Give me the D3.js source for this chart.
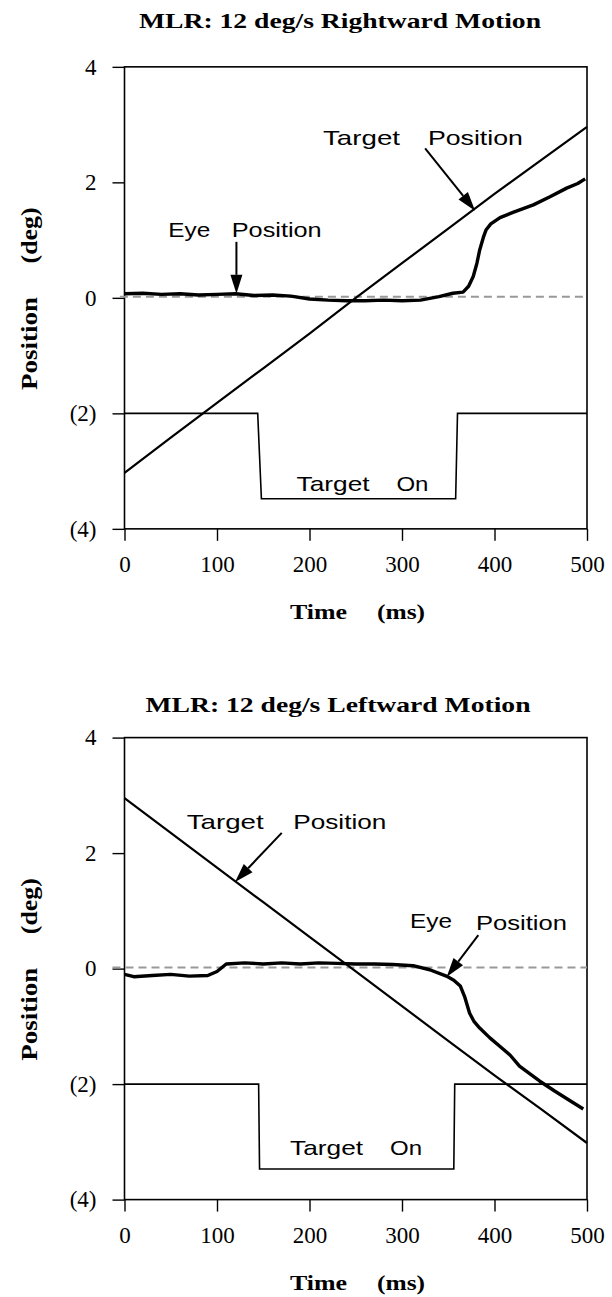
<!DOCTYPE html>
<html>
<head>
<meta charset="utf-8">
<script src="https://cdn.jsdelivr.net/npm/d3@7"></script>
<style>
  body { margin: 0; background: #fff; }
  svg { display: block; }
</style>
</head>
<body>
<div id="chart"></div>
<script>
//******** data (time in ms, position in deg) ********
var timeTicks = [0, 100, 200, 300, 400, 500];
var posTicks = [-4, -2, 0, 2, 4];

// rightward
var rightTarget = [[0,-3.03],[50,-2.42],[100,-1.82],[150,-1.22],[200,-0.62],[250,0.0],[300,0.6],[350,1.2],[400,1.8],[450,2.38],[500,2.96]];
var rightEye = [[0,0.07],[20,0.08],[40,0.06],[60,0.07],[80,0.05],[100,0.06],[120,0.07],[140,0.04],[160,0.05],[180,0.03],[200,-0.02],[220,-0.04],[240,-0.05],[260,-0.05],[280,-0.04],[300,-0.05],[320,-0.04],[340,0.02],[355,0.08],[366,0.1],[372,0.2],[377,0.37],[381,0.6],[384,0.83],[388,1.05],[391,1.18],[396,1.28],[406,1.39],[420,1.48],[442,1.61],[460,1.75],[478,1.9],[490,1.98],[498,2.06]];
var rightOn = [[0,-2],[144,-2],[148,-3.48],[358,-3.48],[360,-2],[500,-2]];

// leftward
var leftTarget = [[0,2.95],[50,2.35],[100,1.75],[150,1.15],[200,0.55],[250,-0.05],[300,-0.65],[350,-1.25],[400,-1.85],[450,-2.43],[500,-3.02]];
var leftEye = [[0,-0.1],[10,-0.14],[30,-0.12],[50,-0.1],[70,-0.13],[90,-0.12],[100,-0.05],[110,0.08],[130,0.1],[150,0.08],[170,0.1],[190,0.08],[210,0.1],[230,0.09],[250,0.08],[270,0.08],[290,0.07],[312,0.05],[330,-0.02],[348,-0.13],[356,-0.2],[363,-0.3],[368,-0.5],[373,-0.77],[378,-0.92],[384,-1.03],[395,-1.2],[406,-1.35],[417,-1.5],[427,-1.69],[438,-1.82],[449,-1.95],[465,-2.12],[480,-2.27],[496,-2.43]];
var leftOn = [[0,-2],[145,-2],[146,-3.47],[356,-3.47],[357,-2],[500,-2]];

var zeroRef = 0.02;

// labels: [text, t, deg, width px]
var rightLabels = [["Target",214.6,2.64,77],["Position",328,2.64,95],["Eye",47.4,1.05,42],["Position",115.9,1.05,90],["Target",186,-3.34,73],["On",294,-3.34,32]];
var leftLabels = [["Target",67.2,2.42,77],["Position",182.5,2.42,93],["Eye",308.6,0.70,42],["Position",380,0.66,91],["Target",179,-3.23,73],["On",287,-3.23,32]];
// arrows: [t0, deg0, t1, deg1] (t1,deg1 = tip)
var rightArrows = [[325,2.59,379,1.51],[121,0.97,121,0.07]];
var leftArrows = [[170,2.35,119.5,1.5],[382.5,0.58,348.4,-0.14]];

//******** setup ********
var width = 612, height = 1297;
var plotL = 124.5, plotR = 587, plotH = 462;
var serif = "'Liberation Serif','Times New Roman',serif";
var sans = "'Liberation Sans',Arial,sans-serif";

var svg = d3.select('#chart').append('svg')
    .attr('width', width).attr('height', height);

var x = d3.scaleLinear().domain([0, 500]).range([plotL, plotR]);

var panels = [
  {top: 66.85, title: "MLR: 12 deg/s Rightward Motion", titleY: 28, titleX: 340, titleW: 402, zeroStart: -5,
   target: rightTarget, eye: rightEye, on: rightOn, labels: rightLabels, arrows: rightArrows},
  {top: 737.6, title: "MLR: 12 deg/s Leftward Motion", titleY: 712, titleX: 338, titleW: 385, zeroStart: -13,
   target: leftTarget, eye: leftEye, on: leftOn, labels: leftLabels, arrows: leftArrows}
];

function drawPanel(p) {
  var g = svg.append('g');
  var y = d3.scaleLinear().domain([-4, 4]).range([p.top + plotH, p.top]);
  var line = d3.line().x(function(d) { return x(d[0]); }).y(function(d) { return y(d[1]); });

  // title
  g.append('text')
    .attr('x', p.titleX).attr('y', p.titleY)
    .attr('text-anchor', 'middle')
    .attr('textLength', p.titleW).attr('lengthAdjust', 'spacingAndGlyphs')
    .style('font-family', serif).style('font-weight', 'bold').style('font-size', '22px')
    .text(p.title);

  // frame
  g.append('rect')
    .attr('x', plotL).attr('y', p.top)
    .attr('width', plotR - plotL).attr('height', plotH)
    .attr('fill', 'none').attr('stroke', '#000').attr('stroke-width', 1.6);

  // axes
  var yAxis = d3.axisLeft(y).tickValues(posTicks).tickSize(12).tickPadding(16)
    .tickFormat(function(v) { return v < 0 ? '(' + (-v) + ')' : v; });
  var ya = g.append('g').attr('transform', 'translate(' + plotL + ',0)').call(yAxis);

  var xAxis = d3.axisBottom(x).tickValues(timeTicks).tickSize(12).tickPadding(15);
  var xa = g.append('g').attr('transform', 'translate(0,' + (p.top + plotH) + ')').call(xAxis);

  [ya, xa].forEach(function(a) {
    a.select('.domain').remove();
    a.selectAll('.tick line').attr('stroke', '#000').attr('stroke-width', 1.4);
    a.selectAll('.tick text').style('font-family', serif).style('font-size', '23px').attr('fill', '#000');
  });

  // axis titles
  var base = p.top + plotH;
  g.append('text').attr('x', 290).attr('y', base + 90)
    .attr('textLength', 57).attr('lengthAdjust', 'spacingAndGlyphs')
    .style('font-family', serif).style('font-weight', 'bold').style('font-size', '22px')
    .text('Time');
  g.append('text').attr('x', 377).attr('y', base + 90)
    .attr('textLength', 48).attr('lengthAdjust', 'spacingAndGlyphs')
    .style('font-family', serif).style('font-weight', 'bold').style('font-size', '22px')
    .text('(ms)');

  var yl = [['Position', y(-0.79), 93], ['(deg)', y(1.08), 56]];
  yl.forEach(function(l) {
    g.append('text')
      .attr('transform', 'translate(37,' + l[1] + ') rotate(-90)')
      .attr('text-anchor', 'middle')
      .attr('textLength', l[2]).attr('lengthAdjust', 'spacingAndGlyphs')
      .style('font-family', serif).style('font-weight', 'bold').style('font-size', '23px')
      .text(l[0]);
  });

  // zero reference
  g.append('line')
    .attr('x1', x(p.zeroStart)).attr('x2', x(500))
    .attr('y1', y(zeroRef)).attr('y2', y(zeroRef))
    .attr('stroke', '#999').attr('stroke-width', 2).attr('stroke-dasharray', '8,5');

  // traces
  g.append('path').datum(p.on).attr('d', line)
    .attr('fill', 'none').attr('stroke', '#000').attr('stroke-width', 1.6);
  g.append('path').datum(p.target).attr('d', line)
    .attr('fill', 'none').attr('stroke', '#000').attr('stroke-width', 2.2);
  g.append('path').datum(p.eye).attr('d', line)
    .attr('fill', 'none').attr('stroke', '#000').attr('stroke-width', 3.4)
    .attr('stroke-linejoin', 'round');

  // annotation text
  p.labels.forEach(function(l) {
    g.append('text').attr('x', x(l[1])).attr('y', y(l[2]))
      .attr('textLength', l[3]).attr('lengthAdjust', 'spacingAndGlyphs')
      .style('font-family', sans).style('font-size', '21px')
      .text(l[0]);
  });

  // arrows
  p.arrows.forEach(function(a) {
    var x0 = x(a[0]), y0 = y(a[1]), x1 = x(a[2]), y1 = y(a[3]);
    var ang = Math.atan2(y1 - y0, x1 - x0);
    var len = 19, half = 6;
    var bx = x1 - len * Math.cos(ang), by = y1 - len * Math.sin(ang);
    g.append('line').attr('x1', x0).attr('y1', y0).attr('x2', bx).attr('y2', by)
      .attr('stroke', '#000').attr('stroke-width', 2);
    var pts = [[x1, y1],
      [bx + half * Math.sin(ang), by - half * Math.cos(ang)],
      [bx - half * Math.sin(ang), by + half * Math.cos(ang)]];
    g.append('path').attr('d', 'M' + pts.join('L') + 'Z').attr('fill', '#000');
  });
}

panels.forEach(drawPanel);
</script>
</body>
</html>
